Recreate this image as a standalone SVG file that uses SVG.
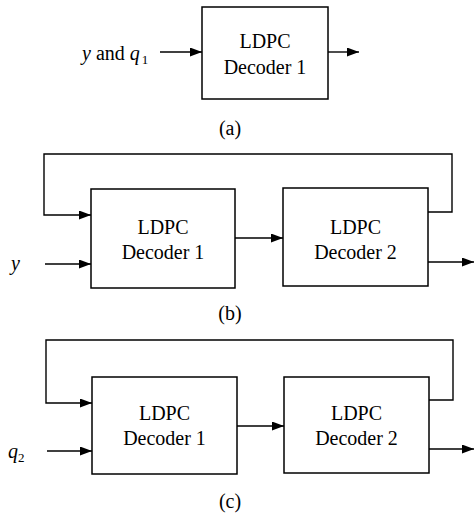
<svg xmlns="http://www.w3.org/2000/svg" width="474" height="517" viewBox="0 0 474 517">
<defs>
<marker id="ah" markerUnits="userSpaceOnUse" markerWidth="13" markerHeight="10" refX="12" refY="4.5" orient="auto">
<path d="M0,0 L12,4.5 L0,9 Z" fill="#000"/>
</marker>
</defs>
<style>
.box{fill:#fff;stroke:#000;stroke-width:1.5}
.ln{fill:none;stroke:#000;stroke-width:1.4}
.arr{fill:none;stroke:#000;stroke-width:1.4;marker-end:url(#ah)}
.t{font-family:"Liberation Serif","Times New Roman",serif;font-size:20px;fill:#000}
.c{text-anchor:middle}
.i{font-style:italic}
</style>
<rect width="474" height="517" fill="#fff"/>
<g id="connectors">
<line class="arr" x1="160" y1="52" x2="202" y2="52"/>
<line class="arr" x1="328" y1="52" x2="359" y2="52"/>
<polyline class="arr" points="428,212 452,212 452,154 44,154 44,215 91,215"/>
<line class="arr" x1="45" y1="264" x2="91" y2="264"/>
<line class="arr" x1="235" y1="238" x2="283" y2="238"/>
<line class="arr" x1="428" y1="262" x2="474" y2="262"/>
<polyline class="arr" points="429,400 453,400 453,340 46,340 46,403 92,403"/>
<line class="arr" x1="47" y1="451" x2="92" y2="451"/>
<line class="arr" x1="237" y1="426" x2="284" y2="426"/>
<line class="arr" x1="429" y1="449" x2="474" y2="449"/>
</g>
<g id="a-decoder1">
<rect class="box" x="202" y="7" width="126" height="92"/>
<text class="t c" x="265" y="48">LDPC</text>
<text class="t c" x="265" y="74">Decoder 1</text>
</g>
<g id="a-input">
<text class="t" x="82" y="60"><tspan class="i">y</tspan> and <tspan class="i">q</tspan><tspan font-size="13" dx="2" dy="4">1</tspan></text>
</g>
<g id="label-a"><text class="t c" x="230" y="135">(a)</text></g>
<g id="b-decoder1">
<rect class="box" x="91" y="189" width="144" height="99"/>
<text class="t c" x="163" y="234">LDPC</text>
<text class="t c" x="163" y="259">Decoder 1</text>
</g>
<g id="b-decoder2">
<rect class="box" x="283" y="188" width="145" height="98"/>
<text class="t c" x="355.5" y="234">LDPC</text>
<text class="t c" x="355.5" y="259">Decoder 2</text>
</g>
<g id="b-input"><text class="t i" x="11" y="270">y</text></g>
<g id="label-b"><text class="t c" x="230" y="320">(b)</text></g>
<g id="c-decoder1">
<rect class="box" x="92" y="377" width="145" height="97"/>
<text class="t c" x="164.5" y="420">LDPC</text>
<text class="t c" x="164.5" y="445">Decoder 1</text>
</g>
<g id="c-decoder2">
<rect class="box" x="284" y="377" width="145" height="96"/>
<text class="t c" x="356.5" y="420">LDPC</text>
<text class="t c" x="356.5" y="445">Decoder 2</text>
</g>
<g id="c-input"><text class="t" x="8" y="458"><tspan class="i">q</tspan><tspan font-size="13" dy="4">2</tspan></text></g>
<g id="label-c"><text class="t c" x="230" y="508">(c)</text></g>
</svg>
